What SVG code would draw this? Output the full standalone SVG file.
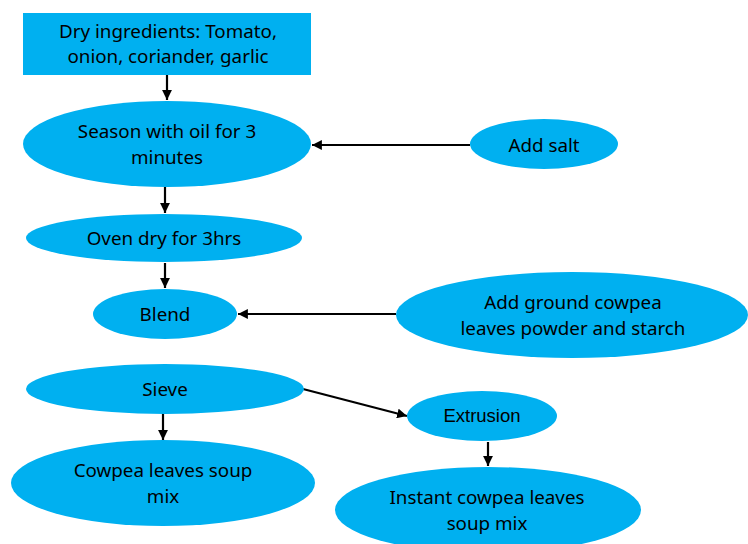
<svg xmlns="http://www.w3.org/2000/svg" width="748" height="544" viewBox="0 0 748 544">
<style>
.n{fill:#00B0F0}
.t{font-family:"Noto Sans","Liberation Sans",sans-serif;font-size:18.8px;fill:#000;text-anchor:middle}
.a{font-family:"Liberation Sans",Arial,sans-serif;font-size:18.5px;fill:#000;text-anchor:middle}
.c{stroke:#000;stroke-width:2.2;fill:none;marker-end:url(#ah)}
</style>
<defs>
<marker id="ah" viewBox="0 0 10 10" refX="10" refY="5" markerWidth="4.5" markerHeight="4.5" orient="auto" markerUnits="strokeWidth">
<path d="M0,0 L10,5 L0,10 z" fill="#000"/>
</marker>
</defs>
<rect width="748" height="544" fill="#fff"/>
<g id="connectors">
<line class="c" x1="167" y1="75" x2="167" y2="100"/>
<line class="c" x1="470" y1="145" x2="312" y2="145"/>
<line class="c" x1="165" y1="187" x2="165" y2="213"/>
<line class="c" x1="165" y1="263" x2="165" y2="288"/>
<line class="c" x1="396" y1="314" x2="238" y2="314"/>
<line class="c" x1="163" y1="413" x2="163" y2="440"/>
<line class="c" x1="303" y1="389" x2="407" y2="416"/>
<line class="c" x1="488" y1="442" x2="488" y2="466"/>
</g>
<g id="dry">
<rect class="n" x="23" y="13" width="288" height="62"/>
<text class="t" x="168" y="38">Dry ingredients: Tomato,</text>
<text class="t" x="168" y="63">onion, coriander, garlic</text>
</g>
<g id="season">
<ellipse class="n" cx="167" cy="144" rx="144" ry="43"/>
<text class="t" x="167" y="138">Season with oil for 3</text>
<text class="t" x="167" y="164">minutes</text>
</g>
<g id="salt">
<ellipse class="n" cx="544" cy="144" rx="74" ry="25"/>
<text class="t" x="544" y="152">Add salt</text>
</g>
<g id="oven">
<ellipse class="n" cx="164" cy="238" rx="138" ry="24"/>
<text class="t" x="164" y="245">Oven dry for 3hrs</text>
</g>
<g id="blend">
<ellipse class="n" cx="165" cy="314" rx="72" ry="25"/>
<text class="t" x="165" y="321">Blend</text>
</g>
<g id="ground">
<ellipse class="n" cx="572" cy="315" rx="176" ry="43"/>
<text class="t" x="573" y="309">Add ground cowpea</text>
<text class="t" x="573" y="335">leaves powder and starch</text>
</g>
<g id="sieve">
<ellipse class="n" cx="165" cy="389" rx="139" ry="25"/>
<text class="t" x="165" y="396">Sieve</text>
</g>
<g id="soupmix">
<ellipse class="n" cx="163" cy="483" rx="152" ry="43"/>
<text class="t" x="163" y="477">Cowpea leaves soup</text>
<text class="t" x="163" y="503">mix</text>
</g>
<g id="extrusion">
<ellipse class="n" cx="482" cy="416" rx="75" ry="25"/>
<text class="a" x="482" y="422">Extrusion</text>
</g>
<g id="instant">
<ellipse class="n" cx="488" cy="510" rx="153" ry="43"/>
<text class="t" x="487" y="504">Instant cowpea leaves</text>
<text class="t" x="487" y="530">soup mix</text>
</g>
</svg>
